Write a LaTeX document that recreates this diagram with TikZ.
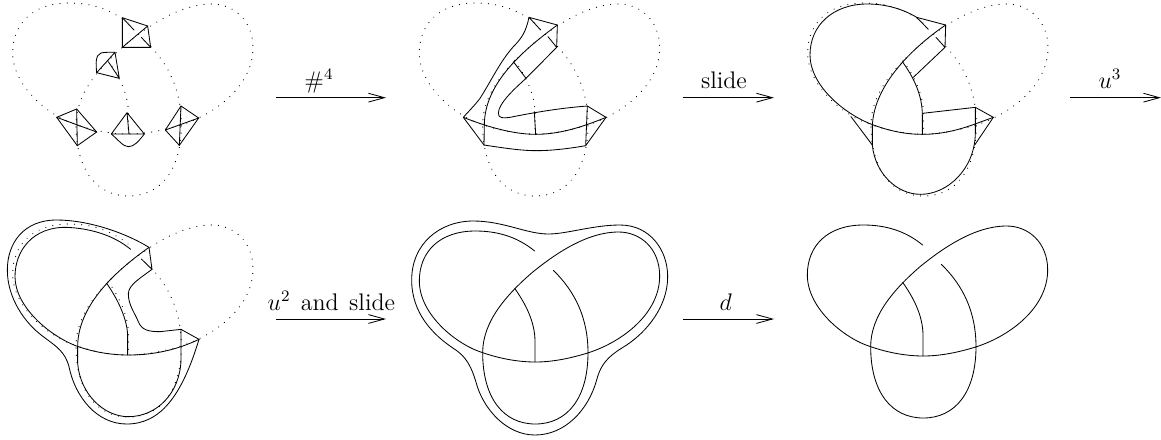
\documentclass[tikz,border=0pt]{standalone}
\usetikzlibrary{arrows.meta}
\tikzset{
  x=0.16667pt,y=-0.16667pt,
  ln/.style={line width=0.42pt,line join=round,line cap=round},
  dots/.style={line width=0.6pt,line cap=round,dash pattern=on 0.01pt off 3.62pt},
  arr/.style={line width=0.42pt,-{Straight Barb[length=8pt,width=4.4pt,line width=0.42pt]}},
  lab/.style={anchor=base,inner sep=0pt,font=\fontsize{12}{14}\selectfont}
}
% the knot strand, in the frame of the first panel
\newcommand\knotstrand[1]{\draw[#1] (384,69) .. controls (330,25) and (270,9) .. (206,9)
 .. controls (100,9) and (38,70) .. (38,159)
 .. controls (38,260) and (150,350) .. (228,374)
 .. controls (280,392) and (335,402) .. (386,402)
 .. controls (440,402) and (495,390) .. (546,374)
 .. controls (650,340) and (759,255) .. (759,144)
 .. controls (759,60) and (700,12) .. (636,12)
 .. controls (540,12) and (445,78) .. (376,134)
 .. controls (300,200) and (228,280) .. (228,374)
 .. controls (228,510) and (290,588) .. (386,588)
 .. controls (482,588) and (544,510) .. (544,374)
 .. controls (544,270) and (505,190) .. (440,127);}
\newcommand\knotarc[1]{\draw[#1] (324,181) .. controls (355,225) and (385,280) .. (385,340) -- (385,402);}
\begin{document}
\begin{tikzpicture}
\useasboundingbox (0,0) rectangle (3483,1317);
% ---------- panel 1
\begin{scope}
\knotstrand{dots}\knotarc{dots}
\draw[ln] (367,53)--(443,78)--(452,142)--(367,142)--cycle;
\draw[ln] (367,142)--(443,78) (367,53)--(402,90) (424,112)--(452,142);
\draw[ln] (345,157)--(358,235)--(290,218)--(345,157) (325,185)--(358,235);
\draw[ln] (345,157) .. controls (330,157) and (315,156) .. (303,159) .. controls (285,165) and (288,195) .. (290,218);
\draw[ln] (170,352)--(230,327)--(290,396)--(232,437)--cycle;
\draw[ln] (230,327)--(232,437) (170,352)--(290,396);
\draw[ln] (381,338)--(433,402)--(334,402)--cycle (381,338)--(387,402);
\draw[ln] (334,402) .. controls (355,420) and (370,440) .. (385,440) .. controls (402,440) and (415,425) .. (433,402);
\draw[ln] (543,318)--(596,354)--(538,436)--(496,390)--cycle;
\draw[ln] (543,318)--(538,436) (496,390)--(596,354);
\end{scope}
% ---------- panel 2
\begin{scope}[shift={(1220,0)}]
\knotstrand{dots}\knotarc{dots}
\end{scope}
\begin{scope}[shift={(1200,0)}]
\draw[ln] (387,52)--(472,75)--(470,142) (387,52)--(422,90) (444,110)--(470,142);
\draw[ln] (472,75) .. controls (370,150) and (253,250) .. (253,375) -- (252,435);
\draw[ln] (387,52) .. controls (378,95) and (365,115) .. (340,140) .. controls (300,185) and (275,240) .. (240,295) .. controls (225,315) and (205,335) .. (190,352);
\draw[ln] (470,142) -- (378,235) .. controls (345,265) and (295,310) .. (295,340) .. controls (295,355) and (310,355) .. (330,352) .. controls (390,340) and (470,325) .. (562,318);
\draw[ln] (340,185)--(378,235) (403,335)--(407,403);
\draw[ln] (190,352)--(252,435) (562,318)--(557,437) (562,318)--(618,352)--(557,437);
\draw[ln] (190,352) .. controls (260,380) and (340,403) .. (407,403) .. controls (480,403) and (550,380) .. (618,352);
\draw[ln] (252,435) .. controls (330,447) and (370,452) .. (410,452) .. controls (450,452) and (500,447) .. (557,437);
\end{scope}
% ---------- panel 3
\begin{scope}[shift={(2385,0)}]
\knotstrand{dots}\knotarc{dots}
\end{scope}
\begin{scope}[shift={(2340,0)}]
\draw[ln] (410,52)--(497,75)--(495,142) (468,112)--(495,142) (495,142)--(400,232) (427,340)--(586,322)--(640,352)--(584,435) (213,350)--(277,435);
\draw[ln] (445,88) -- (410,52) .. controls (370,28) and (320,12) .. (262,12) .. controls (160,12) and (90,75) .. (90,165) .. controls (90,255) and (190,340) .. (275,373) .. controls (325,392) and (375,403) .. (427,403) .. controls (480,403) and (530,392) .. (585,372) -- (640,352);
\draw[ln] (497,75) .. controls (430,120) and (280,240) .. (277,380) -- (277,435) .. controls (285,520) and (350,583) .. (422,583) .. controls (500,583) and (584,510) .. (586,400) -- (586,322);
\draw[ln] (367,185) .. controls (400,230) and (427,285) .. (427,345) -- (427,403);
\end{scope}
% ---------- panel 4
\begin{scope}[shift={(0,663)}]
\knotstrand{dots}\knotarc{dots}
\end{scope}
\begin{scope}[shift={(0,660)}]
\draw[ln] (447,82) .. controls (370,35) and (260,0) .. (170,0) .. controls (70,0) and (22,70) .. (22,150) .. controls (22,235) and (75,310) .. (130,350) .. controls (170,380) and (195,395) .. (207,440) .. controls (225,530) and (290,612) .. (380,612) .. controls (480,612) and (545,530) .. (597,358);
\draw[ln] (392,88) .. controls (340,45) and (270,25) .. (200,22) .. controls (100,20) and (45,90) .. (45,170) .. controls (45,260) and (150,350) .. (235,380) .. controls (285,397) and (335,405) .. (385,405) .. controls (460,405) and (530,390) .. (597,358);
\draw[ln] (447,82) .. controls (380,130) and (233,240) .. (233,380) -- (233,430) .. controls (240,520) and (310,590) .. (385,590) .. controls (470,590) and (540,520) .. (543,420) -- (543,328);
\draw[ln] (543,328)--(597,358) (447,82)--(456,148) (424,117)--(456,148);
\draw[ln] (320,190) .. controls (355,240) and (383,300) .. (383,350) -- (383,405);
\draw[ln] (456,148) .. controls (420,175) and (385,195) .. (385,222) .. controls (385,255) and (405,280) .. (415,305) .. controls (425,330) and (445,335) .. (480,335) -- (543,328);
\end{scope}
% ---------- panel 5
\begin{scope}[shift={(1220,684)}]
\knotstrand{ln}\knotarc{ln}
\end{scope}
\begin{scope}[shift={(1200,660)}]
\draw[ln] (445,42) .. controls (500,42) and (580,15) .. (660,15) .. controls (750,15) and (803,90) .. (803,170) .. controls (803,260) and (740,335) .. (680,375) .. controls (640,400) and (605,420) .. (590,480) .. controls (565,570) and (495,645) .. (405,645) .. controls (320,645) and (255,570) .. (232,500) .. controls (215,440) and (200,410) .. (160,385) .. controls (100,345) and (35,280) .. (35,180) .. controls (35,70) and (120,3) .. (220,3) .. controls (310,3) and (380,42) .. (445,42) -- cycle;
\end{scope}
% ---------- panel 6
\begin{scope}[shift={(2384,666)}]
\knotstrand{ln}\knotarc{ln}
\end{scope}
% ---------- arrows
\coordinate (a1s) at (828,293); \coordinate (a1e) at (1158,293);
\coordinate (a2s) at (2048,293); \coordinate (a2e) at (2322,293);
\coordinate (a3s) at (3210,293); \coordinate (a3e) at (3483,293);
\coordinate (a4s) at (828,957); \coordinate (a4e) at (1158,957);
\coordinate (a5s) at (2048,957); \coordinate (a5e) at (2322,957);
\draw[arr] (a1s)--(a1e);
\draw[arr] (a2s)--(a2e);
\draw[arr] (a3s)--(a3e);
\draw[arr] (a4s)--(a4e);
\draw[arr] (a5s)--(a5e);
\node[lab] (l1) at (957,264) {$\#^4$};
\node[lab] (l2) at (2172,264) {slide};
\node[lab] (l3) at (3330,264) {$u^3$};
\node[lab] (l4) at (994,930) {$u^2$\hspace{1.3pt} and\hspace{1.3pt} slide};
\node[lab] (l5) at (2177,930) {$d$};
\end{tikzpicture}
\end{document}
